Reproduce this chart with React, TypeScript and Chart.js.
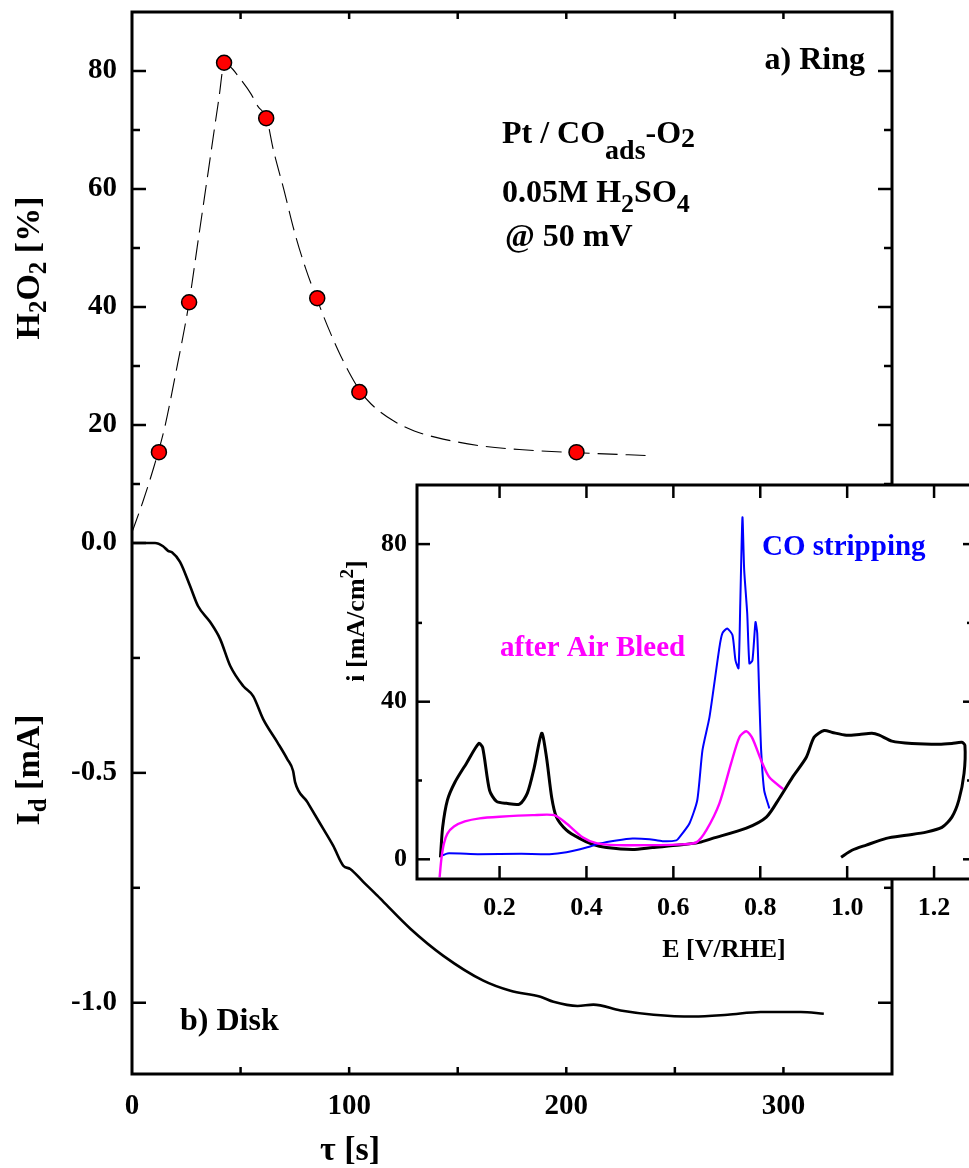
import React, { useEffect, useRef } from "react";
import { Chart, registerables } from "chart.js";
Chart.register(...registerables);

const FONT = "'Liberation Serif', 'Times New Roman', serif";

// ---------- main chart data ----------
const ringTime = [12.4, 26.3, 42.4, 61.8, 85.3, 104.7, 204.7];
const ringH2O2 = [15.4, 40.8, 81.4, 72.0, 41.5, 25.6, 15.4];

const fitTime = [0, 5, 10, 15, 20, 26.3, 30, 35, 40, 42.5, 45, 50, 55, 58, 62, 65, 70, 75, 80, 85, 90, 95, 100, 105, 110, 120, 130, 140, 160, 180, 205, 239];
const fitH2O2 = [1.8, 7, 12.8, 19.5, 28.5, 40.8, 50.1, 62.7, 75.3, 81.2, 80.8, 78.6, 76.0, 74.0, 72.0, 66.8, 59.8, 52.5, 46.5, 41.5, 36.8, 32.6, 28.9, 25.8, 23.6, 20.8, 19.0, 17.9, 16.5, 15.8, 15.3, 14.8];

const diskTime = [0, 10.6, 14.3, 16.6, 18.4, 22.1, 26.7, 30.4, 36.0, 40.6, 45.2, 51.2, 55.8, 60.4, 66.9, 71.5, 74.2, 75.1, 80.7, 88.1, 92.7, 97.3, 100.5, 106.5, 113.0, 115.7, 128.2, 143.4, 161.8, 174.3, 188.1, 194.1, 205.2, 212.5, 225.0, 240.2, 258.6, 274.3, 289.5, 308.0, 318.6];
const diskCurrent = [0, 0, -0.007, -0.017, -0.02, -0.041, -0.093, -0.137, -0.172, -0.209, -0.267, -0.311, -0.333, -0.383, -0.433, -0.47, -0.496, -0.52, -0.563, -0.622, -0.659, -0.702, -0.709, -0.737, -0.767, -0.78, -0.839, -0.898, -0.952, -0.974, -0.987, -0.998, -1.007, -1.004, -1.017, -1.026, -1.03, -1.026, -1.02, -1.02, -1.024];

const xTickLabels = [0, 100, 200, 300];
const xTickMarks = [50, 100, 150, 200, 250, 300];
const ringTickLabels = [20, 40, 60, 80];
const ringTickMarks = [10, 20, 30, 40, 50, 60, 70, 80];
const diskTickLabels = [0, -0.5, -1.0];
const diskTickMarks = [0, -0.25, -0.5, -0.75, -1.0];

const RING_MAX = 90;
const DISK_MAX = 1.155;

// ---------- inset data ----------
const cvE = [0.064, 0.069, 0.08, 0.097, 0.124, 0.152, 0.161, 0.177, 0.193, 0.216, 0.246, 0.264, 0.28, 0.297, 0.308, 0.32, 0.331, 0.354, 0.384, 0.414, 0.446, 0.506, 0.552, 0.614, 0.66, 0.69, 0.768, 0.814, 0.844, 0.874, 0.906, 0.924, 0.947, 0.966, 0.998, 1.028, 1.057, 1.074, 1.103, 1.149, 1.211, 1.241, 1.264, 1.271, 1.269, 1.257, 1.241, 1.218, 1.182, 1.136, 1.09, 1.044, 1.011, 0.986];
const cvI = [0.5, 8.1, 15, 19.5, 24.4, 29.4, 28.4, 17.5, 14.7, 14.2, 14, 16.8, 23.4, 32, 25.9, 15.7, 10.7, 7.4, 5.3, 3.8, 3.0, 2.5, 3.0, 3.6, 4.3, 5.3, 7.9, 10.7, 15.5, 20.8, 25.9, 31, 32.7, 32.2, 31.5, 31.7, 32, 31.5, 30, 29.4, 29.2, 29.4, 29.7, 28.9, 21.8, 15, 10.7, 8.1, 6.9, 6.1, 5.3, 3.6, 2.3, 0.5];

const coE = [0.069, 0.08, 0.15, 0.25, 0.315, 0.354, 0.4, 0.43, 0.469, 0.506, 0.545, 0.575, 0.607, 0.614, 0.637, 0.655, 0.667, 0.683, 0.706, 0.713, 0.724, 0.736, 0.743, 0.75, 0.754, 0.759, 0.763, 0.77, 0.775, 0.782, 0.789, 0.793, 0.798, 0.802, 0.809, 0.821];
const coI = [1, 1.5, 1.3, 1.4, 1.3, 1.8, 3, 4, 4.8, 5.3, 5.1, 4.6, 4.8, 5.6, 9.1, 15, 27.7, 36, 53.8, 57.4, 58.6, 56.9, 50.5, 48.5, 65, 86.8, 73.4, 62.4, 49.7, 50.5, 60.2, 57.4, 40.4, 27.7, 17.5, 12.9];

const bleedE = [0.062, 0.066, 0.072, 0.08, 0.095, 0.12, 0.154, 0.2, 0.276, 0.326, 0.354, 0.391, 0.423, 0.469, 0.545, 0.621, 0.653, 0.676, 0.706, 0.733, 0.752, 0.768, 0.782, 0.802, 0.821, 0.853];
const bleedI = [-4.6, 0, 4, 6.5, 8.3, 9.6, 10.4, 10.8, 11.2, 11.2, 9.1, 5.6, 4.1, 3.6, 3.6, 3.8, 4.3, 7.4, 14.2, 24.4, 31, 32.5, 30.7, 25.1, 20.8, 17.8];

const insetXTicks = [0.2, 0.4, 0.6, 0.8, 1.0, 1.2];
const insetYTicks = [0, 40, 80];
const insetYMarks = [0, 20, 40, 60, 80];

const INSET_LEFT = 300;
const INSET_TOP = 470;

type Seg = { t: string; s: number; dy?: number };

function richWidth(ctx: CanvasRenderingContext2D, segs: Seg[]) {
  let w = 0;
  for (const g of segs) {
    ctx.font = `bold ${g.s}px ${FONT}`;
    w += ctx.measureText(g.t).width;
  }
  return w;
}

function drawRich(ctx: CanvasRenderingContext2D, segs: Seg[], x: number, y: number, align: string, color: string) {
  const w = richWidth(ctx, segs);
  let cx = align === "left" ? x : align === "right" ? x - w : x - w / 2;
  ctx.fillStyle = color;
  ctx.textBaseline = "alphabetic";
  ctx.textAlign = "left";
  for (const g of segs) {
    ctx.font = `bold ${g.s}px ${FONT}`;
    ctx.fillText(g.t, cx, y + (g.dy || 0));
    cx += ctx.measureText(g.t).width;
  }
}

function drawRotated(ctx: CanvasRenderingContext2D, segs: Seg[], bx: number, cy: number, color: string) {
  ctx.save();
  ctx.translate(bx, cy);
  ctx.rotate(-Math.PI / 2);
  drawRich(ctx, segs, 0, 0, "center", color);
  ctx.restore();
}

function seg(ctx: CanvasRenderingContext2D, x1: number, y1: number, x2: number, y2: number) {
  ctx.beginPath();
  ctx.moveTo(x1, y1);
  ctx.lineTo(x2, y2);
  ctx.stroke();
}

const noPad = (s: any) => {
  s.paddingTop = 0;
  s.paddingBottom = 0;
  s.paddingLeft = 0;
  s.paddingRight = 0;
};

const mainPlugin = {
  id: "mainDecor",
  afterDraw(chart: any) {
    const { ctx, chartArea: a, scales } = chart;
    ctx.save();
    ctx.strokeStyle = "#000";
    ctx.lineWidth = 3;
    ctx.strokeRect(a.left, a.top, a.right - a.left, a.bottom - a.top);
    ctx.lineWidth = 2.5;
    for (const v of xTickMarks) {
      const px = scales.x.getPixelForValue(v);
      seg(ctx, px, a.bottom, px, a.bottom - 7);
      seg(ctx, px, a.top, px, a.top + 7);
    }
    for (const v of ringTickMarks) {
      const py = scales.y.getPixelForValue(v);
      const L = v % 20 === 0 ? 14 : 8;
      seg(ctx, a.left, py, a.left + L, py);
      seg(ctx, a.right, py, a.right - L, py);
    }
    for (const v of diskTickMarks) {
      const py = scales.y2.getPixelForValue(v);
      const L = Math.abs(v * 2 - Math.round(v * 2)) < 1e-6 ? 14 : 8;
      seg(ctx, a.left, py, a.left + L, py);
      seg(ctx, a.right, py, a.right - L, py);
    }
    // annotations
    drawRich(ctx, [{ t: "a) Ring", s: 32 }], 865, 69, "right", "#000");
    drawRich(ctx, [{ t: "b) Disk", s: 32 }], 180, 1030, "left", "#000");
    drawRich(ctx, [{ t: "Pt / CO", s: 32 }, { t: "ads", s: 28, dy: 16 }, { t: "-O", s: 32 }, { t: "2", s: 28, dy: 4 }], 502, 143, "left", "#000");
    drawRich(ctx, [{ t: "0.05M H", s: 32 }, { t: "2", s: 26, dy: 10 }, { t: "SO", s: 32 }, { t: "4", s: 26, dy: 10 }], 502, 202, "left", "#000");
    drawRich(ctx, [{ t: "@ 50 mV", s: 32 }], 505, 246, "left", "#000");
    // axis titles
    drawRotated(ctx, [{ t: "H", s: 34 }, { t: "2", s: 25, dy: 7 }, { t: "O", s: 34 }, { t: "2", s: 25, dy: 7 }, { t: " [%]", s: 34 }], 39, 268, "#000");
    drawRotated(ctx, [{ t: "I", s: 34 }, { t: "d", s: 25, dy: 7 }, { t: " [mA]", s: 34 }], 39, 770, "#000");
    drawRich(ctx, [{ t: "τ [s]", s: 34 }], 350, 1160, "center", "#000");
    ctx.restore();
  },
};

const insetPlugin = {
  id: "insetDecor",
  beforeDraw(chart: any) {
    const { ctx, chartArea: a } = chart;
    ctx.save();
    ctx.fillStyle = "#fff";
    ctx.fillRect(a.left, a.top, a.right - a.left, a.bottom - a.top);
    ctx.restore();
  },
  afterDraw(chart: any) {
    const { ctx, chartArea: a, scales } = chart;
    ctx.save();
    ctx.strokeStyle = "#000";
    ctx.lineWidth = 3;
    ctx.strokeRect(a.left, a.top, a.right - a.left, a.bottom - a.top);
    ctx.lineWidth = 2.5;
    for (const v of insetXTicks) {
      const px = scales.x.getPixelForValue(v);
      seg(ctx, px, a.bottom, px, a.bottom - 13);
      seg(ctx, px, a.top, px, a.top + 13);
    }
    for (const v of insetYMarks) {
      const py = scales.y.getPixelForValue(v);
      const major = v % 40 === 0;
      seg(ctx, a.left, py, a.left + (major ? 13 : 5), py);
      seg(ctx, a.right, py, a.right - (major ? 8 : 4), py);
    }
    const ox = INSET_LEFT, oy = INSET_TOP;
    drawRich(ctx, [{ t: "CO stripping", s: 29 }], 762 - ox, 555 - oy, "left", "#0000ff");
    drawRich(ctx, [{ t: "after Air Bleed", s: 29 }], 500 - ox, 656 - oy, "left", "#ff00ff");
    drawRich(ctx, [{ t: "E [V/RHE]", s: 26 }], 724 - ox, 957 - oy, "center", "#000");
    drawRotated(ctx, [{ t: "i [mA/cm", s: 26 }, { t: "2", s: 19, dy: -11 }, { t: "]", s: 26 }], 364 - ox, 621 - oy, "#000");
    ctx.restore();
  },
};

const pts = (xs: number[], ys: number[]) => xs.map((x, i) => ({ x, y: ys[i] }));

export default function App() {
  const mainRef = useRef<HTMLCanvasElement>(null);
  const insetRef = useRef<HTMLCanvasElement>(null);

  useEffect(() => {
    const tickFont = { family: FONT, size: 29, weight: "bold" as const };
    const main = new Chart(mainRef.current!, {
      type: "line",
      data: {
        datasets: [
          {
            data: pts(ringTime, ringH2O2),
            yAxisID: "y",
            showLine: false,
            pointRadius: 7.5,
            pointBackgroundColor: "#ff0000",
            pointBorderColor: "#000",
            pointBorderWidth: 1.5,
            order: 0,
          },
          {
            data: pts(fitTime, fitH2O2),
            yAxisID: "y",
            borderColor: "#000",
            borderWidth: 1.1,
            borderDash: [20, 8],
            pointRadius: 0,
            cubicInterpolationMode: "monotone",
            fill: false,
            order: 1,
          },
          {
            data: pts(diskTime, diskCurrent),
            yAxisID: "y2",
            borderColor: "#000",
            borderWidth: 2.6,
            pointRadius: 0,
            cubicInterpolationMode: "monotone",
            fill: false,
            order: 2,
          },
        ],
      },
      options: {
        responsive: false,
        animation: false,
        events: [],
        layout: { padding: { top: 12, right: 77, left: 0, bottom: 0 } },
        plugins: { legend: { display: false }, tooltip: { enabled: false } },
        scales: {
          x: {
            type: "linear",
            min: 0,
            max: 350,
            position: "bottom",
            grid: { display: false, drawTicks: false },
            border: { display: false },
            afterBuildTicks: (s: any) => { s.ticks = xTickLabels.map((v) => ({ value: v })); },
            afterFit: (s: any) => { s.height = 94; noPad(s); },
            ticks: { font: tickFont, color: "#000", padding: 15, autoSkip: false, maxRotation: 0, callback: (v: any) => String(v) },
          },
          y: {
            type: "linear",
            min: -RING_MAX,
            max: RING_MAX,
            position: "left",
            grid: { display: false, drawTicks: false },
            border: { display: false },
            afterBuildTicks: (s: any) => {
              const t = [...diskTickLabels.map((v) => v * RING_MAX / DISK_MAX), ...ringTickLabels];
              s.ticks = t.sort((p, q) => p - q).map((v) => ({ value: v }));
            },
            afterFit: (s: any) => { s.width = 132; noPad(s); },
            ticks: {
              font: tickFont,
              color: "#000",
              padding: 15,
              autoSkip: false,
              callback: (v: any) => (v > 1 ? String(Math.round(v)) : ((v * DISK_MAX) / RING_MAX).toFixed(1)),
            },
          },
          y2: {
            type: "linear",
            min: -DISK_MAX,
            max: DISK_MAX,
            display: false,
          },
        },
      },
      plugins: [mainPlugin],
    } as any);

    const insetFont = { family: FONT, size: 26, weight: "bold" as const };
    const inset = new Chart(insetRef.current!, {
      type: "line",
      data: {
        datasets: [
          {
            data: pts(cvE, cvI),
            borderColor: "#000",
            borderWidth: 3,
            pointRadius: 0,
            tension: 0.25,
            fill: false,
            order: 2,
          },
          {
            data: pts(coE, coI),
            borderColor: "#0000ff",
            borderWidth: 2,
            pointRadius: 0,
            tension: 0.2,
            fill: false,
            order: 1,
          },
          {
            data: pts(bleedE, bleedI),
            borderColor: "#ff00ff",
            borderWidth: 2.4,
            pointRadius: 0,
            tension: 0.25,
            fill: false,
            order: 0,
          },
        ],
      },
      options: {
        responsive: false,
        animation: false,
        events: [],
        layout: { padding: { top: 15, right: 29, left: 0, bottom: 0 } },
        plugins: { legend: { display: false }, tooltip: { enabled: false } },
        scales: {
          x: {
            type: "linear",
            min: 0.01,
            max: 1.285,
            position: "bottom",
            grid: { display: false, drawTicks: false },
            border: { display: false },
            afterBuildTicks: (s: any) => { s.ticks = insetXTicks.map((v) => ({ value: v })); },
            afterFit: (s: any) => { s.height = 91; noPad(s); },
            ticks: { font: insetFont, color: "#000", padding: 14, autoSkip: false, maxRotation: 0, callback: (v: any) => Number(v).toFixed(1) },
          },
          y: {
            type: "linear",
            min: -5,
            max: 95,
            position: "left",
            grid: { display: false, drawTicks: false },
            border: { display: false },
            afterBuildTicks: (s: any) => { s.ticks = insetYTicks.map((v) => ({ value: v })); },
            afterFit: (s: any) => { s.width = 117; noPad(s); },
            ticks: { font: insetFont, color: "#000", padding: 10, autoSkip: false, callback: (v: any) => String(v) },
          },
        },
      },
      plugins: [insetPlugin],
    } as any);

    return () => {
      main.destroy();
      inset.destroy();
    };
  }, []);

  return (
    <div style={{ position: "fixed", left: 0, top: 0, width: 969, height: 1168, overflow: "hidden", background: "#fff" }}>
      <canvas ref={mainRef} width={969} height={1168} style={{ position: "absolute", left: 0, top: 0, width: 969, height: 1168 }} />
      <canvas ref={insetRef} width={700} height={500} style={{ position: "absolute", left: INSET_LEFT, top: INSET_TOP, width: 700, height: 500 }} />
    </div>
  );
}
